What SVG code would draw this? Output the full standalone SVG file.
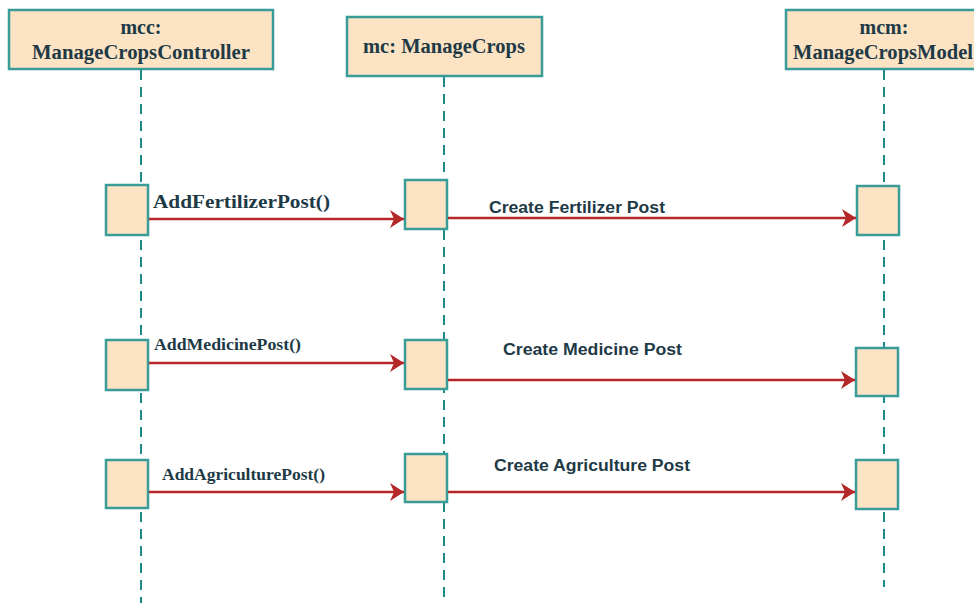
<svg xmlns="http://www.w3.org/2000/svg" width="974" height="603" viewBox="0 0 974 603">
<style>
.box{fill:#fbe3c3;stroke:#3a9c98;stroke-width:2.5}
.life{stroke:#1e8a86;stroke-width:2;stroke-dasharray:10 7;fill:none}
.title{font-family:"Liberation Serif",serif;font-weight:bold;font-size:20px;fill:#1e3a46;text-anchor:middle}
.msg{font-family:"Liberation Serif",serif;font-weight:bold;font-size:18px;fill:#1e3a46}
.lbl{font-family:"Liberation Sans",Arial,sans-serif;font-weight:bold;font-size:16px;fill:#1e3a46}
.arrow{stroke:#b5282a;stroke-width:2.6;fill:none;marker-end:url(#ah)}
</style>
<defs>
<marker id="ah" markerUnits="userSpaceOnUse" markerWidth="15" markerHeight="18" refX="14" refY="9" orient="auto">
<path d="M0,0 L14,9 L0,18 L4,9 z" fill="#b5282a"/>
</marker>
</defs>
<rect width="974" height="603" fill="#ffffff"/>
<g id="lifelines">
<line class="life" x1="141" y1="70" x2="141" y2="603"/>
<line class="life" x1="444" y1="77" x2="444" y2="603"/>
<line class="life" x1="884" y1="70" x2="884" y2="587"/>
</g>
<g id="mcc">
<rect class="box" x="9" y="10" width="264" height="59"/>
<text class="title" x="141" y="34">mcc:</text>
<text class="title" x="141" y="59" textLength="218" lengthAdjust="spacingAndGlyphs">ManageCropsController</text>
</g>
<g id="mc">
<rect class="box" x="347" y="17" width="195" height="59"/>
<text class="title" x="444" y="53" textLength="162" lengthAdjust="spacingAndGlyphs">mc: ManageCrops</text>
</g>
<g id="mcm">
<rect class="box" x="786" y="10" width="200" height="59"/>
<text class="title" x="884" y="34">mcm:</text>
<text x="793" y="59" class="title" style="text-anchor:start" textLength="180" lengthAdjust="spacingAndGlyphs">ManageCropsModel</text>
</g>
<g id="act-mcc-1"><rect class="box" x="106" y="185" width="42" height="50"/></g>
<g id="act-mc-1"><rect class="box" x="405" y="180" width="42" height="49"/></g>
<g id="act-mcm-1"><rect class="box" x="857" y="186" width="42" height="49"/></g>
<g id="act-mcc-2"><rect class="box" x="106" y="340" width="42" height="50"/></g>
<g id="act-mc-2"><rect class="box" x="405" y="340" width="42" height="49"/></g>
<g id="act-mcm-2"><rect class="box" x="856" y="348" width="42" height="48"/></g>
<g id="act-mcc-3"><rect class="box" x="106" y="460" width="42" height="48"/></g>
<g id="act-mc-3"><rect class="box" x="405" y="454" width="42" height="48"/></g>
<g id="act-mcm-3"><rect class="box" x="856" y="460" width="42" height="49"/></g>
<g id="connectors">
<line class="arrow" x1="149" y1="219" x2="404" y2="219"/>
<line class="arrow" x1="448" y1="218" x2="856" y2="218"/>
<line class="arrow" x1="149" y1="363" x2="404" y2="363"/>
<line class="arrow" x1="448" y1="380" x2="855" y2="380"/>
<line class="arrow" x1="149" y1="492" x2="404" y2="492"/>
<line class="arrow" x1="448" y1="492" x2="855" y2="492"/>
<text class="msg" x="153" y="208" textLength="177" lengthAdjust="spacingAndGlyphs">AddFertilizerPost()</text>
<text class="lbl" x="489" y="213" textLength="176" lengthAdjust="spacingAndGlyphs">Create Fertilizer Post</text>
<text class="msg" x="154" y="350" style="font-size:17px" textLength="147" lengthAdjust="spacingAndGlyphs">AddMedicinePost()</text>
<text class="lbl" x="503" y="355" textLength="179" lengthAdjust="spacingAndGlyphs">Create Medicine Post</text>
<text class="msg" x="162" y="480" style="font-size:17px" textLength="163" lengthAdjust="spacingAndGlyphs">AddAgriculturePost()</text>
<text class="lbl" x="494" y="471" textLength="196" lengthAdjust="spacingAndGlyphs">Create Agriculture Post</text>
</g>
</svg>
